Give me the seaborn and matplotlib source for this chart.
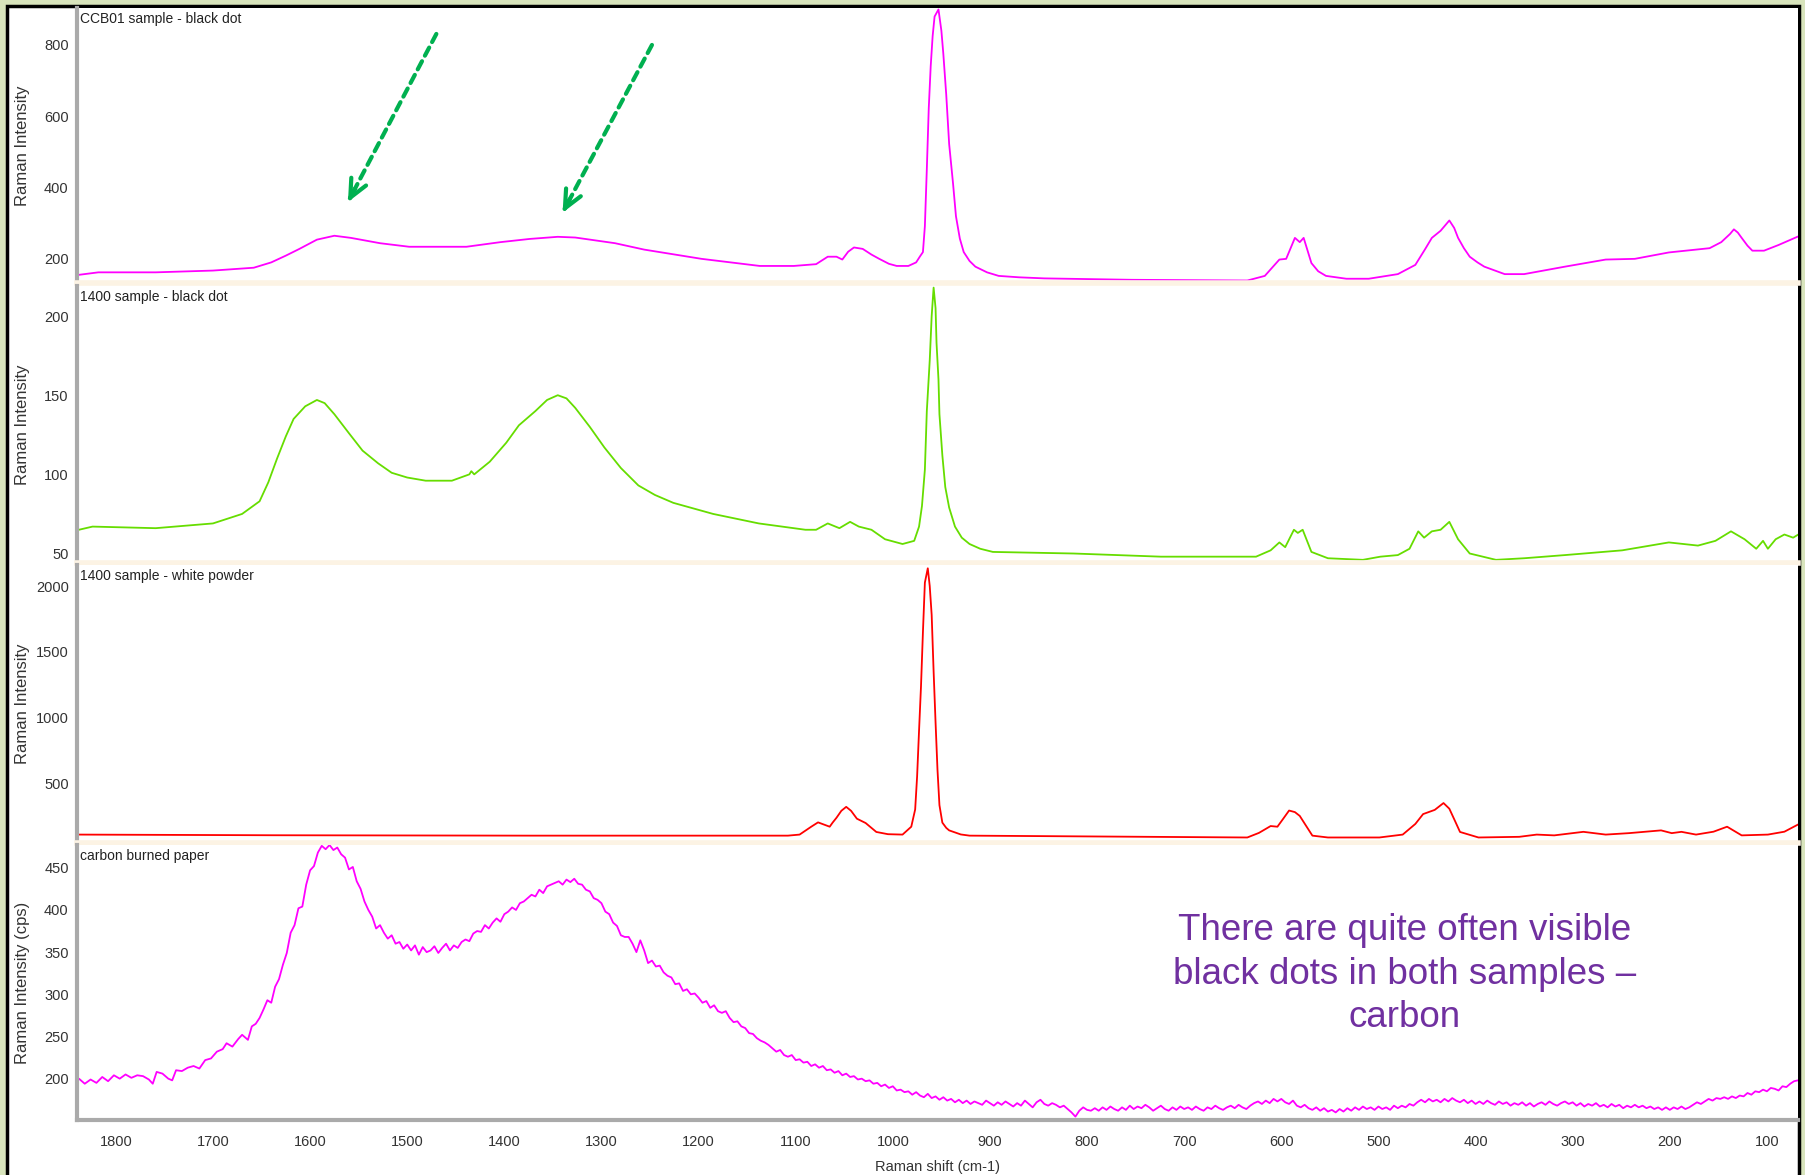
import matplotlib
matplotlib.use("Agg")
import matplotlib.pyplot as plt
import seaborn as sns
from matplotlib.patches import Rectangle
from matplotlib.ticker import MultipleLocator

# -----------------------------
# Data
# -----------------------------
panel_titles = [
    "CCB01 sample - black dot",
    "1400 sample - black dot",
    "1400 sample - white powder",
    "carbon burned paper",
]
y_labels = ["Raman Intensity", "Raman Intensity", "Raman Intensity", "Raman Intensity (cps)"]
y_limits = [(130, 904), (44, 219), (45, 2160), (151, 477)]
y_major = [200, 50, 500, 50]
y_minor = [50, 10, 100, 10]
line_colors = ["#ff00ff", "#66dd00", "#ff0000", "#ff00ff"]

ccb01_black = [
    (1838, 153), (1818, 160), (1759, 160), (1700, 165), (1658, 173), (1640, 188),
    (1625, 207), (1611, 226), (1593, 252), (1575, 263), (1558, 257), (1528, 242),
    (1498, 232), (1439, 232), (1404, 245), (1374, 254), (1345, 260), (1327, 258),
    (1286, 242), (1256, 224), (1197, 198), (1137, 178), (1102, 178), (1079, 183),
    (1067, 204), (1058, 204), (1052, 196), (1046, 218), (1040, 230), (1031, 226),
    (1022, 210), (1014, 198), (1004, 184), (996, 178), (984, 178), (976, 188),
    (972, 205), (969, 217), (967, 290), (965, 450), (963, 622), (961, 740),
    (959, 825), (957, 880), (953, 900), (950, 840), (948, 775), (945, 660),
    (942, 521), (938, 410), (935, 318), (931, 255), (927, 217), (921, 192),
    (915, 176), (903, 160), (891, 150), (870, 146), (844, 143), (754, 139),
    (635, 137), (617, 150), (602, 196), (595, 198), (586, 257), (581, 245),
    (577, 257), (569, 186), (562, 163), (554, 150), (533, 142), (510, 142),
    (480, 155), (462, 181), (452, 225), (445, 257), (436, 277), (427, 306),
    (422, 285), (418, 257), (412, 228), (406, 204), (398, 188), (391, 176),
    (370, 155), (350, 155), (308, 176), (266, 196), (236, 198), (201, 216),
    (159, 228), (147, 245), (138, 268), (134, 281), (130, 272), (126, 257),
    (120, 235), (115, 221), (103, 221), (88, 237), (67, 262),
]

s1400_black = [
    (1838, 65), (1824, 67), (1759, 66), (1700, 69), (1670, 75), (1652, 83),
    (1643, 95), (1634, 110), (1625, 124), (1617, 135), (1605, 143), (1593, 147),
    (1585, 145), (1575, 138), (1560, 126), (1546, 115), (1530, 107), (1516, 101),
    (1500, 98), (1481, 96), (1454, 96), (1436, 100), (1434, 102), (1431, 100),
    (1415, 108), (1398, 120), (1385, 131), (1368, 140), (1356, 147), (1345, 150),
    (1336, 148), (1327, 142), (1312, 130), (1297, 117), (1280, 104), (1262, 93),
    (1245, 87), (1226, 82), (1185, 75), (1138, 69), (1090, 65), (1079, 65),
    (1067, 69), (1055, 66), (1044, 70), (1035, 67), (1022, 65), (1008, 59),
    (990, 56), (978, 58), (973, 67), (970, 80), (967, 103), (965, 140),
    (962, 172), (960, 200), (958, 218), (956, 205), (955, 183), (953, 160),
    (952, 138), (949, 112), (946, 92), (942, 79), (936, 67), (929, 60),
    (921, 56), (910, 53), (897, 51), (814, 50), (724, 48), (626, 48),
    (611, 52), (602, 57), (596, 54), (587, 65), (583, 63), (578, 65),
    (569, 51), (552, 47), (516, 46), (498, 48), (480, 49), (468, 53),
    (459, 64), (453, 60), (445, 64), (436, 65), (427, 70), (418, 59),
    (406, 50), (379, 46), (350, 47), (308, 49), (249, 52), (201, 57),
    (171, 55), (153, 58), (137, 64), (123, 59), (111, 53), (104, 58),
    (99, 53), (91, 59), (82, 62), (73, 60), (65, 63),
]

s1400_white = [
    (1838, 109), (1640, 104), (1374, 101), (1108, 101), (1096, 109), (1084, 169),
    (1077, 202), (1065, 169), (1062, 200), (1058, 237), (1053, 290), (1048, 320),
    (1043, 290), (1037, 230), (1028, 197), (1017, 129), (1005, 112), (990, 109),
    (981, 169), (977, 300), (975, 551), (973, 900), (971, 1235), (969, 1650),
    (967, 2026), (964, 2135), (962, 2000), (960, 1780), (958, 1350), (956, 962),
    (954, 600), (952, 333), (949, 200), (945, 160), (942, 141), (930, 110),
    (921, 101), (635, 87), (623, 122), (611, 174), (604, 169), (598, 230),
    (592, 292), (586, 280), (581, 251), (574, 170), (568, 101), (552, 87),
    (499, 87), (475, 109), (462, 190), (454, 265), (442, 297), (433, 349),
    (427, 306), (421, 210), (416, 129), (397, 87), (355, 92), (337, 109),
    (319, 103), (289, 130), (266, 109), (242, 120), (209, 141), (198, 120),
    (188, 130), (173, 109), (155, 131), (141, 169), (126, 103), (99, 109),
    (82, 131), (65, 197),
]

carbon_paper = [
    (1838, 200), (1832, 194), (1826, 199), (1820, 195), (1814, 202), (1808, 197),
    (1802, 204), (1796, 200), (1790, 205), (1784, 201), (1778, 204), (1772, 203),
    (1766, 199), (1762, 194), (1758, 208), (1752, 206), (1746, 200), (1742, 198),
    (1738, 210), (1732, 209), (1726, 213), (1720, 215), (1714, 212), (1708, 222),
    (1702, 224), (1696, 232), (1690, 235), (1686, 242), (1680, 238), (1674, 247),
    (1670, 252), (1664, 246), (1660, 262), (1656, 265), (1652, 272), (1648, 282),
    (1644, 293), (1640, 290), (1636, 309), (1632, 318), (1628, 335), (1624, 349),
    (1620, 373), (1616, 382), (1612, 402), (1608, 404), (1604, 430), (1600, 447),
    (1596, 452), (1592, 468), (1588, 476), (1584, 472), (1580, 477), (1576, 471),
    (1572, 474), (1568, 466), (1564, 462), (1560, 448), (1556, 451), (1552, 434),
    (1548, 425), (1544, 410), (1540, 400), (1536, 392), (1532, 378), (1528, 382),
    (1524, 373), (1520, 366), (1516, 370), (1512, 360), (1508, 362), (1504, 354),
    (1500, 359), (1496, 352), (1492, 358), (1488, 347), (1484, 356), (1480, 350),
    (1476, 352), (1472, 357), (1468, 349), (1464, 355), (1460, 360), (1456, 352),
    (1452, 358), (1448, 355), (1444, 362), (1440, 365), (1436, 363), (1432, 372),
    (1428, 375), (1424, 374), (1420, 382), (1416, 378), (1412, 385), (1408, 390),
    (1404, 386), (1400, 395), (1396, 398), (1392, 403), (1388, 400), (1384, 408),
    (1380, 410), (1376, 414), (1372, 418), (1368, 416), (1364, 424), (1360, 420),
    (1356, 428), (1352, 430), (1348, 432), (1344, 434), (1340, 430), (1336, 436),
    (1332, 433), (1328, 437), (1324, 431), (1320, 430), (1316, 424), (1312, 422),
    (1308, 414), (1304, 412), (1300, 408), (1296, 398), (1292, 395), (1288, 385),
    (1284, 381), (1280, 370), (1276, 368), (1272, 368), (1268, 360), (1264, 350),
    (1260, 364), (1256, 352), (1252, 337), (1248, 340), (1244, 333), (1240, 334),
    (1236, 326), (1232, 322), (1228, 320), (1224, 312), (1220, 313), (1216, 304),
    (1212, 306), (1208, 300), (1204, 301), (1200, 296), (1196, 290), (1192, 292),
    (1188, 284), (1184, 287), (1180, 280), (1176, 278), (1172, 280), (1168, 272),
    (1164, 267), (1160, 268), (1156, 262), (1152, 260), (1148, 254), (1144, 253),
    (1140, 248), (1136, 245), (1132, 243), (1128, 240), (1124, 236), (1120, 232),
    (1116, 234), (1112, 228), (1108, 226), (1104, 228), (1100, 222), (1096, 223),
    (1092, 219), (1088, 220), (1084, 215), (1080, 217), (1076, 213), (1072, 215),
    (1068, 210), (1064, 211), (1060, 207), (1056, 209), (1052, 204), (1048, 206),
    (1044, 202), (1040, 203), (1036, 199), (1032, 200), (1028, 197), (1024, 198),
    (1020, 194), (1016, 195), (1012, 191), (1008, 193), (1004, 189), (1000, 191),
    (996, 186), (992, 187), (988, 184), (984, 185), (980, 181), (976, 184),
    (972, 180), (968, 178), (964, 182), (960, 177), (956, 179), (952, 175),
    (948, 178), (944, 174), (940, 176), (936, 172), (932, 175), (928, 171),
    (924, 174), (920, 170), (916, 173), (912, 171), (908, 169), (904, 174),
    (900, 171), (896, 168), (892, 172), (888, 169), (884, 173), (880, 170),
    (876, 167), (872, 171), (868, 168), (864, 174), (860, 170), (856, 166),
    (852, 172), (848, 175), (844, 170), (840, 168), (836, 171), (832, 169),
    (828, 166), (824, 168), (820, 164), (816, 160), (812, 155), (808, 162),
    (804, 166), (800, 163), (796, 162), (792, 165), (788, 162), (784, 166),
    (780, 163), (776, 167), (772, 164), (768, 162), (764, 166), (760, 163),
    (756, 168), (752, 164), (748, 167), (744, 165), (740, 169), (736, 166),
    (732, 162), (728, 165), (724, 168), (720, 164), (716, 162), (712, 166),
    (708, 163), (704, 167), (700, 164), (696, 166), (692, 163), (688, 167),
    (684, 164), (680, 162), (676, 166), (672, 164), (668, 168), (664, 165),
    (660, 163), (656, 166), (652, 168), (648, 165), (644, 169), (640, 166),
    (636, 164), (632, 168), (628, 171), (624, 173), (620, 170), (616, 174),
    (612, 171), (608, 176), (604, 173), (600, 176), (596, 172), (592, 170),
    (588, 174), (584, 168), (580, 166), (576, 169), (572, 165), (568, 163),
    (564, 166), (560, 162), (556, 165), (552, 161), (548, 163), (544, 160),
    (540, 164), (536, 161), (532, 165), (528, 162), (524, 166), (520, 163),
    (516, 167), (512, 164), (508, 166), (504, 163), (500, 167), (496, 164),
    (492, 166), (488, 163), (484, 168), (480, 165), (476, 168), (472, 166),
    (468, 170), (464, 168), (460, 172), (456, 175), (452, 172), (448, 176),
    (444, 173), (440, 175), (436, 172), (432, 176), (428, 173), (424, 177),
    (420, 174), (416, 172), (412, 175), (408, 171), (404, 174), (400, 170),
    (396, 173), (392, 170), (388, 174), (384, 171), (380, 169), (376, 173),
    (372, 170), (368, 172), (364, 168), (360, 171), (356, 169), (352, 172),
    (348, 168), (344, 171), (340, 167), (336, 170), (332, 172), (328, 169),
    (324, 173), (320, 170), (316, 168), (312, 171), (308, 173), (304, 170),
    (300, 172), (296, 168), (292, 171), (288, 167), (284, 170), (280, 168),
    (276, 171), (272, 167), (268, 169), (264, 166), (260, 170), (256, 167),
    (252, 169), (248, 165), (244, 168), (240, 166), (236, 169), (232, 166),
    (228, 168), (224, 165), (220, 167), (216, 164), (212, 166), (208, 163),
    (204, 166), (200, 163), (196, 166), (192, 164), (188, 167), (184, 164),
    (180, 166), (176, 169), (172, 172), (168, 170), (164, 173), (160, 176),
    (156, 174), (152, 177), (148, 176), (144, 178), (140, 176), (136, 179),
    (132, 177), (128, 180), (124, 179), (120, 183), (116, 181), (112, 185),
    (108, 184), (104, 187), (100, 185), (96, 189), (92, 188), (88, 186),
    (84, 191), (80, 190), (76, 194), (72, 197), (68, 198), (66, 197),
]

spectra = [ccb01_black, s1400_black, s1400_white, carbon_paper]

# arrows on the top panel: (start, tip) in data units
arrow_starts = [(1470, 831), (1248, 800)]
arrow_tips = [(1561, 358), (1340, 328)]

note_text = "There are quite often visible\nblack dots in both samples \u2013\ncarbon"

x_limits = (1840, 68)

# -----------------------------
# Style
# -----------------------------
sns.set_style("white")
plt.rcParams["font.family"] = ["Liberation Sans", "DejaVu Sans"]

W, H = 1806, 1175
fig = plt.figure(figsize=(W / 100, H / 100), dpi=100)
fig.patch.set_facecolor("#d8e4bc")
fig.patches.append(Rectangle((7 / W, -0.02), (1799 - 7) / W, 1.02 - 6 / H,
                             transform=fig.transFigure, facecolor="white",
                             edgecolor="black", linewidth=2.5, zorder=-10))

# panel extents in pixels (top, bottom)
panel_px = [(8, 283), (286, 563), (565, 843), (845, 1120)]
left_px, right_px = 77, 1798

axes = []
for i, (top, bot) in enumerate(panel_px):
    ax = fig.add_axes([left_px / W, 1 - bot / H, (right_px - left_px) / W, (bot - top) / H])
    ax.set_facecolor("white")
    axes.append(ax)

    xs = [p[0] for p in spectra[i]]
    ys = [p[1] for p in spectra[i]]
    sns.lineplot(x=xs, y=ys, ax=ax, sort=False, estimator=None,
                 color=line_colors[i], linewidth=1.3)

    ax.set_xlim(*x_limits)
    ax.set_ylim(*y_limits[i])
    ax.yaxis.set_major_locator(MultipleLocator(y_major[i]))
    ax.yaxis.set_minor_locator(MultipleLocator(y_minor[i]))
    ax.xaxis.set_major_locator(MultipleLocator(100))
    ax.xaxis.set_minor_locator(MultipleLocator(25))

    for side in ["top", "right"]:
        ax.spines[side].set_visible(False)
    ax.spines["left"].set_color("#aaaaaa")
    ax.spines["left"].set_linewidth(3)

    ax.tick_params(axis="y", which="major", direction="out", length=4, width=1,
                   color="#333333", labelsize=10.5, labelcolor="#333333", pad=2)
    ax.tick_params(axis="y", which="minor", direction="in", length=2, width=1,
                   color="#333333")

    if i < 3:
        ax.spines["bottom"].set_color("#fcf3e4")
        ax.spines["bottom"].set_linewidth(4)
        ax.tick_params(axis="x", which="both", bottom=False, labelbottom=False)
    else:
        ax.spines["bottom"].set_color("#aaaaaa")
        ax.spines["bottom"].set_linewidth(3)
        ax.tick_params(axis="x", which="major", direction="out", length=5, width=1,
                       color="#333333", labelsize=10.5, labelcolor="#333333", pad=6)
        ax.tick_params(axis="x", which="minor", direction="in", length=3, width=1,
                       color="#333333")
        ax.set_xlabel("Raman shift (cm-1)", fontsize=10.5, color="#333333", labelpad=8)

    ax.set_ylabel(y_labels[i], fontsize=12, color="#333333")
    ax.yaxis.set_label_coords(-0.0275, 0.5)

    ax.text(0.002, 0.985, panel_titles[i], transform=ax.transAxes, ha="left", va="top",
            fontsize=10, color="#222222")

# green dashed arrows on the first panel
for (x0, y0), (x1, y1) in zip(arrow_starts, arrow_tips):
    axes[0].annotate("", xy=(x1, y1), xytext=(x0, y0),
                     arrowprops=dict(arrowstyle="-", color="#00b050", lw=3,
                                     linestyle=(0, (2.2, 1.5)), shrinkA=0, shrinkB=3))
    axes[0].annotate("", xy=(x1, y1), xytext=(x1 + (x0 - x1) * 0.08, y1 + (y0 - y1) * 0.08),
                     arrowprops=dict(arrowstyle="->,head_length=1.3,head_width=0.6",
                                     color="#00b050", lw=3, shrinkA=0, shrinkB=0))

fig.text(1405 / W, 1 - 974 / H, note_text, ha="center", va="center",
         multialignment="center", fontsize=26.5, color="#7030a0", linespacing=1.3)

fig.savefig("out.png", dpi=100, facecolor=fig.get_facecolor())
plt.close(fig)
